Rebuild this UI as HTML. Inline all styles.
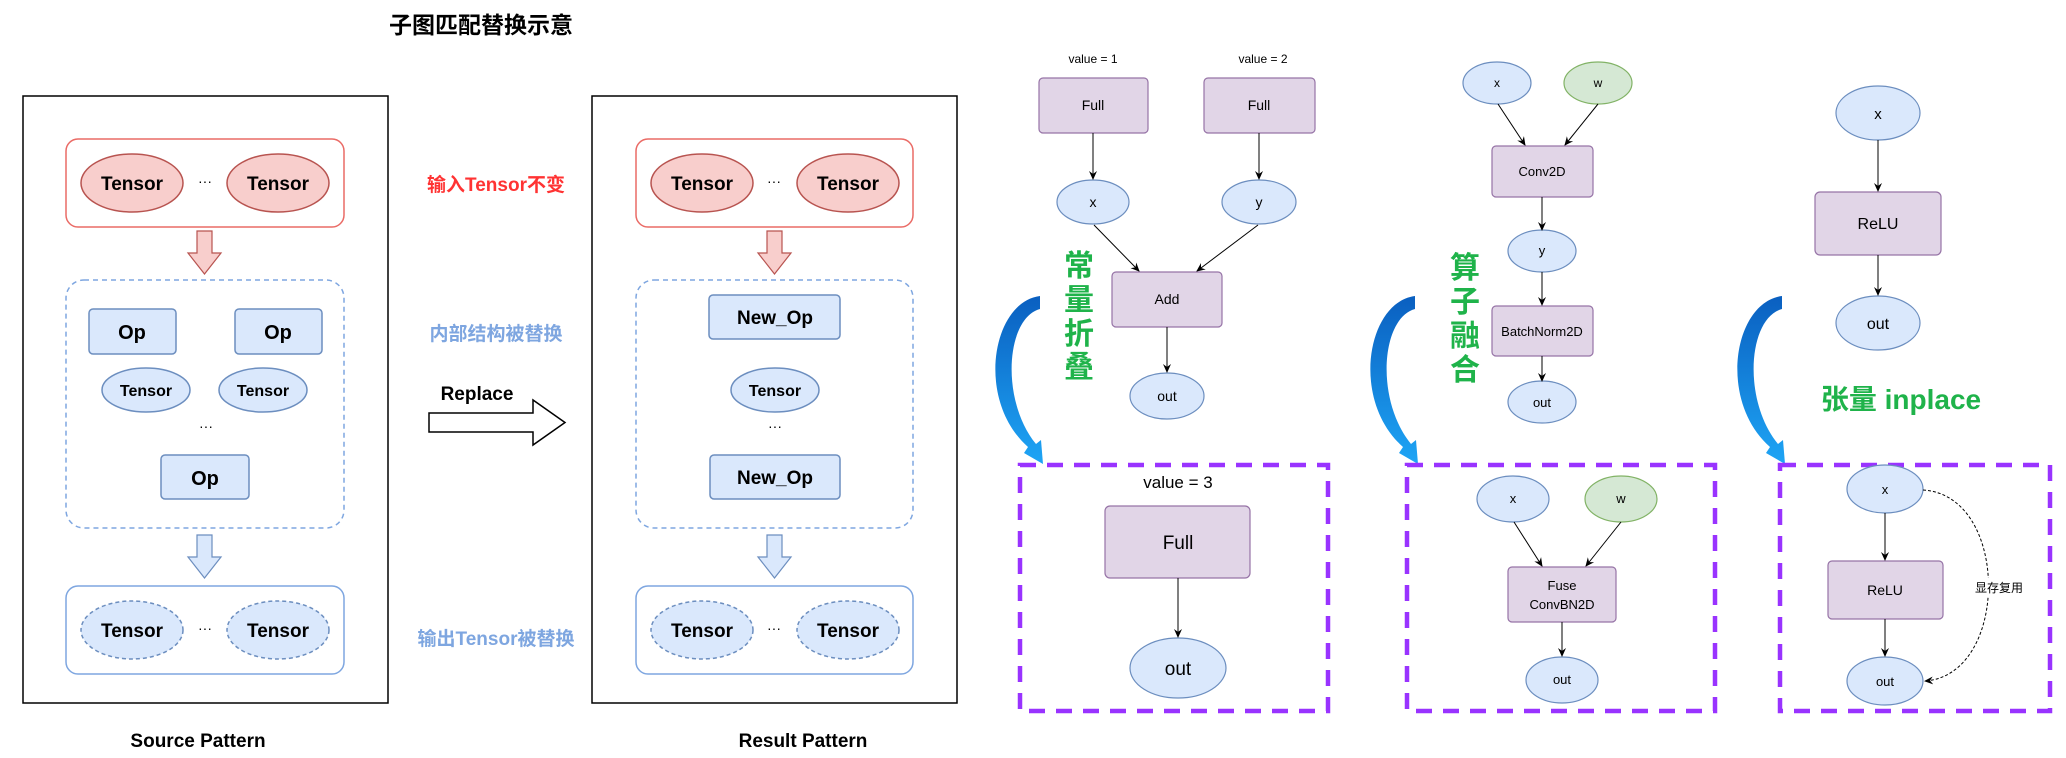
<!DOCTYPE html>
<html><head><meta charset="utf-8"><style>
html,body{margin:0;padding:0;background:#fff;}
svg{display:block;}
text{font-family:"Liberation Sans","Noto Sans CJK SC",sans-serif;}
</style></head><body>
<svg width="2066" height="758" viewBox="0 0 2066 758" xmlns="http://www.w3.org/2000/svg">
<defs>
<marker id="ar" markerWidth="10" markerHeight="10" refX="8" refY="5" orient="auto" markerUnits="userSpaceOnUse"><path d="M0,1 L9,5 L0,9 L3,5 z" fill="#000"/></marker>
<linearGradient id="bg" x1="0" y1="0" x2="0" y2="1"><stop offset="0" stop-color="#0a5fc0"/><stop offset="1" stop-color="#1ea5f5"/></linearGradient>
</defs>
<g font-weight="bold">
<text x="481" y="33" font-size="23" text-anchor="middle">子图匹配替换示意</text>
<rect x="23" y="96" width="365" height="607" fill="none" stroke="#000" stroke-width="1.5"/>
<rect x="592" y="96" width="365" height="607" fill="none" stroke="#000" stroke-width="1.5"/>
<text x="198" y="747" font-size="19" text-anchor="middle">Source Pattern</text>
<text x="803" y="747" font-size="19" text-anchor="middle">Result Pattern</text>

<rect x="66" y="139" width="278" height="88" rx="12" fill="none" stroke="#ea6b66" stroke-width="1.5"/>
<ellipse cx="132" cy="183" rx="51" ry="29" fill="#f8cecc" stroke="#b85450" stroke-width="1.5"/>
<ellipse cx="278" cy="183" rx="51" ry="29" fill="#f8cecc" stroke="#b85450" stroke-width="1.5"/>
<text x="132" y="190" font-size="19" text-anchor="middle">Tensor</text>
<text x="278" y="190" font-size="19" text-anchor="middle">Tensor</text>
<text x="205" y="186" font-size="14" text-anchor="middle" font-weight="normal">···</text>
<path d="M197,231 h15 v22 h9 l-16.5,21 l-16.5,-21 h9 z" fill="#f8cecc" stroke="#b85450" stroke-width="1.2"/>
<rect x="66" y="280" width="278" height="248" rx="18" fill="none" stroke="#7ea6e0" stroke-width="1.5" stroke-dasharray="5,4"/>
<rect x="89" y="309" width="87" height="45" rx="4" fill="#dae8fc" stroke="#6c8ebf" stroke-width="1.5"/>
<rect x="235" y="309" width="87" height="45" rx="4" fill="#dae8fc" stroke="#6c8ebf" stroke-width="1.5"/>
<rect x="161" y="455" width="88" height="44" rx="4" fill="#dae8fc" stroke="#6c8ebf" stroke-width="1.5"/>
<text x="132" y="339" font-size="20" text-anchor="middle">Op</text>
<text x="278" y="339" font-size="20" text-anchor="middle">Op</text>
<text x="205" y="485" font-size="20" text-anchor="middle">Op</text>
<ellipse cx="146" cy="390" rx="44" ry="22" fill="#dae8fc" stroke="#6c8ebf" stroke-width="1.5"/>
<ellipse cx="263" cy="390" rx="44" ry="22" fill="#dae8fc" stroke="#6c8ebf" stroke-width="1.5"/>
<text x="146" y="396" font-size="16" text-anchor="middle">Tensor</text>
<text x="263" y="396" font-size="16" text-anchor="middle">Tensor</text>
<text x="206" y="431" font-size="14" text-anchor="middle" font-weight="normal">···</text>
<path d="M197,535 h15 v22 h9 l-16.5,21 l-16.5,-21 h9 z" fill="#dae8fc" stroke="#6c8ebf" stroke-width="1.2"/>
<rect x="66" y="586" width="278" height="88" rx="12" fill="none" stroke="#7ea6e0" stroke-width="1.5"/>
<ellipse cx="132" cy="630" rx="51" ry="29" fill="#dae8fc" stroke="#6c8ebf" stroke-width="1.5" stroke-dasharray="4,3"/>
<ellipse cx="278" cy="630" rx="51" ry="29" fill="#dae8fc" stroke="#6c8ebf" stroke-width="1.5" stroke-dasharray="4,3"/>
<text x="132" y="637" font-size="19" text-anchor="middle">Tensor</text>
<text x="278" y="637" font-size="19" text-anchor="middle">Tensor</text>
<text x="205" y="633" font-size="14" text-anchor="middle" font-weight="normal">···</text>

<text x="496" y="191" font-size="19" text-anchor="middle" fill="#ff3333">输入Tensor不变</text>
<text x="496" y="340" font-size="19" text-anchor="middle" fill="#7ea6e0">内部结构被替换</text>
<text x="477" y="400" font-size="19" text-anchor="middle">Replace</text>
<path d="M429,413 h104 v-13 l32,22.5 l-32,22.5 v-13 h-104 z" fill="#fff" stroke="#000" stroke-width="1.5"/>
<text x="496" y="645" font-size="19" text-anchor="middle" fill="#7ea6e0">输出Tensor被替换</text>

<rect x="636" y="139" width="277" height="88" rx="12" fill="none" stroke="#ea6b66" stroke-width="1.5"/>
<ellipse cx="702" cy="183" rx="51" ry="29" fill="#f8cecc" stroke="#b85450" stroke-width="1.5"/>
<ellipse cx="848" cy="183" rx="51" ry="29" fill="#f8cecc" stroke="#b85450" stroke-width="1.5"/>
<text x="702" y="190" font-size="19" text-anchor="middle">Tensor</text>
<text x="848" y="190" font-size="19" text-anchor="middle">Tensor</text>
<text x="774" y="186" font-size="14" text-anchor="middle" font-weight="normal">···</text>
<path d="M767,231 h15 v22 h9 l-16.5,21 l-16.5,-21 h9 z" fill="#f8cecc" stroke="#b85450" stroke-width="1.2"/>
<rect x="636" y="280" width="277" height="248" rx="18" fill="none" stroke="#7ea6e0" stroke-width="1.5" stroke-dasharray="5,4"/>
<rect x="709" y="295" width="131" height="44" rx="4" fill="#dae8fc" stroke="#6c8ebf" stroke-width="1.5"/>
<rect x="710" y="455" width="130" height="44" rx="4" fill="#dae8fc" stroke="#6c8ebf" stroke-width="1.5"/>
<text x="775" y="324" font-size="19" text-anchor="middle">New_Op</text>
<text x="775" y="484" font-size="19" text-anchor="middle">New_Op</text>
<ellipse cx="775" cy="390" rx="44" ry="22" fill="#dae8fc" stroke="#6c8ebf" stroke-width="1.5"/>
<text x="775" y="396" font-size="16" text-anchor="middle">Tensor</text>
<text x="775" y="431" font-size="14" text-anchor="middle" font-weight="normal">···</text>
<path d="M767,535 h15 v22 h9 l-16.5,21 l-16.5,-21 h9 z" fill="#dae8fc" stroke="#6c8ebf" stroke-width="1.2"/>
<rect x="636" y="586" width="277" height="88" rx="12" fill="none" stroke="#7ea6e0" stroke-width="1.5"/>
<ellipse cx="702" cy="630" rx="51" ry="29" fill="#dae8fc" stroke="#6c8ebf" stroke-width="1.5" stroke-dasharray="4,3"/>
<ellipse cx="848" cy="630" rx="51" ry="29" fill="#dae8fc" stroke="#6c8ebf" stroke-width="1.5" stroke-dasharray="4,3"/>
<text x="702" y="637" font-size="19" text-anchor="middle">Tensor</text>
<text x="848" y="637" font-size="19" text-anchor="middle">Tensor</text>
<text x="774" y="633" font-size="14" text-anchor="middle" font-weight="normal">···</text>

<g fill="#1fb34a" font-size="30" text-anchor="middle">
<text x="1079" y="276">常</text><text x="1079" y="310">量</text><text x="1079" y="344">折</text><text x="1079" y="377">叠</text>
<text x="1465" y="278">算</text><text x="1465" y="312">子</text><text x="1465" y="346">融</text><text x="1465" y="380">合</text>
<text x="1901" y="409" font-size="28">张量 inplace</text>
</g>
</g>

<g fill="url(#bg)">
<path d="M1040,296 C992,302 975,400 1028,447 L1024,453 L1043,464 L1041,440 L1036,444 C1000,400 1006,318 1040,309 z"/>
<path d="M1415,296 C1367,302 1350,400 1403,447 L1399,453 L1418,464 L1416,440 L1411,444 C1375,400 1381,318 1415,309 z"/>
<path d="M1782,296 C1734,302 1717,400 1770,447 L1766,453 L1785,464 L1783,440 L1778,444 C1742,400 1748,318 1782,309 z"/>
</g>

<g font-family="Liberation Sans, sans-serif" text-anchor="middle" stroke-width="1.2">
<text x="1093" y="63" font-size="12">value = 1</text>
<text x="1263" y="63" font-size="12">value = 2</text>
<rect x="1039" y="78" width="109" height="55" rx="4" fill="#e1d5e7" stroke="#9673a6"/>
<rect x="1204" y="78" width="111" height="55" rx="4" fill="#e1d5e7" stroke="#9673a6"/>
<text x="1093" y="110" font-size="14">Full</text><text x="1259" y="110" font-size="14">Full</text>
<ellipse cx="1093" cy="202" rx="36" ry="22" fill="#dae8fc" stroke="#6c8ebf"/>
<ellipse cx="1259" cy="202" rx="37" ry="22" fill="#dae8fc" stroke="#6c8ebf"/>
<text x="1093" y="207" font-size="14">x</text><text x="1259" y="207" font-size="14">y</text>
<rect x="1112" y="272" width="110" height="55" rx="4" fill="#e1d5e7" stroke="#9673a6"/>
<text x="1167" y="304" font-size="14">Add</text>
<ellipse cx="1167" cy="396" rx="37" ry="23" fill="#dae8fc" stroke="#6c8ebf"/>
<text x="1167" y="401" font-size="14">out</text>
<g stroke="#000" stroke-width="1" marker-end="url(#ar)">
<line x1="1093" y1="133" x2="1093" y2="179"/><line x1="1259" y1="133" x2="1259" y2="179"/>
<line x1="1094" y1="225" x2="1139" y2="271"/><line x1="1258" y1="225" x2="1197" y2="271"/>
<line x1="1167" y1="327" x2="1167" y2="372"/>
</g>
<rect x="1020" y="465" width="308" height="246" fill="none" stroke="#9933ff" stroke-width="4.5" stroke-dasharray="16,11"/>
<text x="1178" y="488" font-size="17">value = 3</text>
<rect x="1105" y="506" width="145" height="72" rx="5" fill="#e1d5e7" stroke="#9673a6"/>
<text x="1178" y="549" font-size="19">Full</text>
<ellipse cx="1178" cy="668" rx="48" ry="30" fill="#dae8fc" stroke="#6c8ebf"/>
<text x="1178" y="675" font-size="19">out</text>
<line x1="1178" y1="578" x2="1178" y2="637" stroke="#000" stroke-width="1" marker-end="url(#ar)"/>

<ellipse cx="1497" cy="83" rx="34" ry="21" fill="#dae8fc" stroke="#6c8ebf"/>
<ellipse cx="1598" cy="83" rx="34" ry="21" fill="#d5e8d4" stroke="#82b366"/>
<text x="1497" y="87" font-size="12">x</text><text x="1598" y="87" font-size="12">w</text>
<rect x="1492" y="146" width="101" height="51" rx="4" fill="#e1d5e7" stroke="#9673a6"/>
<text x="1542" y="176" font-size="13">Conv2D</text>
<ellipse cx="1542" cy="251" rx="34" ry="21" fill="#dae8fc" stroke="#6c8ebf"/>
<text x="1542" y="255" font-size="13">y</text>
<rect x="1492" y="306" width="101" height="50" rx="4" fill="#e1d5e7" stroke="#9673a6"/>
<text x="1542" y="336" font-size="13">BatchNorm2D</text>
<ellipse cx="1542" cy="402" rx="34" ry="21" fill="#dae8fc" stroke="#6c8ebf"/>
<text x="1542" y="407" font-size="13">out</text>
<g stroke="#000" stroke-width="1" marker-end="url(#ar)">
<line x1="1498" y1="104" x2="1525" y2="145"/><line x1="1598" y1="104" x2="1565" y2="145"/>
<line x1="1542" y1="197" x2="1542" y2="230"/><line x1="1542" y1="272" x2="1542" y2="305"/>
<line x1="1542" y1="356" x2="1542" y2="381"/>
</g>
<rect x="1407" y="465" width="308" height="246" fill="none" stroke="#9933ff" stroke-width="4.5" stroke-dasharray="16,11"/>
<ellipse cx="1513" cy="499" rx="36" ry="23" fill="#dae8fc" stroke="#6c8ebf"/>
<ellipse cx="1621" cy="499" rx="36" ry="23" fill="#d5e8d4" stroke="#82b366"/>
<text x="1513" y="503" font-size="13">x</text><text x="1621" y="503" font-size="13">w</text>
<rect x="1508" y="567" width="108" height="55" rx="4" fill="#e1d5e7" stroke="#9673a6"/>
<text x="1562" y="590" font-size="13">Fuse</text><text x="1562" y="609" font-size="13">ConvBN2D</text>
<ellipse cx="1562" cy="680" rx="36" ry="23" fill="#dae8fc" stroke="#6c8ebf"/>
<text x="1562" y="684" font-size="13">out</text>
<g stroke="#000" stroke-width="1" marker-end="url(#ar)">
<line x1="1514" y1="522" x2="1542" y2="566"/><line x1="1621" y1="522" x2="1586" y2="566"/>
<line x1="1562" y1="622" x2="1562" y2="656"/>
</g>

<ellipse cx="1878" cy="113" rx="42" ry="27" fill="#dae8fc" stroke="#6c8ebf"/>
<text x="1878" y="119" font-size="15">x</text>
<rect x="1815" y="192" width="126" height="63" rx="5" fill="#e1d5e7" stroke="#9673a6"/>
<text x="1878" y="229" font-size="16">ReLU</text>
<ellipse cx="1878" cy="323" rx="42" ry="27" fill="#dae8fc" stroke="#6c8ebf"/>
<text x="1878" y="329" font-size="16">out</text>
<g stroke="#000" stroke-width="1" marker-end="url(#ar)">
<line x1="1878" y1="140" x2="1878" y2="191"/><line x1="1878" y1="255" x2="1878" y2="295"/>
</g>
<rect x="1780" y="465" width="270" height="246" fill="none" stroke="#9933ff" stroke-width="4.5" stroke-dasharray="16,11"/>
<ellipse cx="1885" cy="489" rx="38" ry="24" fill="#dae8fc" stroke="#6c8ebf"/>
<text x="1885" y="494" font-size="13">x</text>
<rect x="1828" y="561" width="115" height="58" rx="4" fill="#e1d5e7" stroke="#9673a6"/>
<text x="1885" y="595" font-size="14">ReLU</text>
<ellipse cx="1885" cy="681" rx="38" ry="24" fill="#dae8fc" stroke="#6c8ebf"/>
<text x="1885" y="686" font-size="13">out</text>
<g stroke="#000" stroke-width="1" marker-end="url(#ar)">
<line x1="1885" y1="513" x2="1885" y2="560"/><line x1="1885" y1="619" x2="1885" y2="656"/>
<path d="M1923,490 C2010,495 2010,675 1925,681" fill="none" stroke-dasharray="3,2"/>
</g>
<rect x="1975" y="578" width="48" height="18" fill="#fff"/>
<text x="1999" y="592" font-size="12" font-family="Liberation Sans, Noto Sans CJK SC, sans-serif">显存复用</text>
</g>
</svg>
</body></html>
